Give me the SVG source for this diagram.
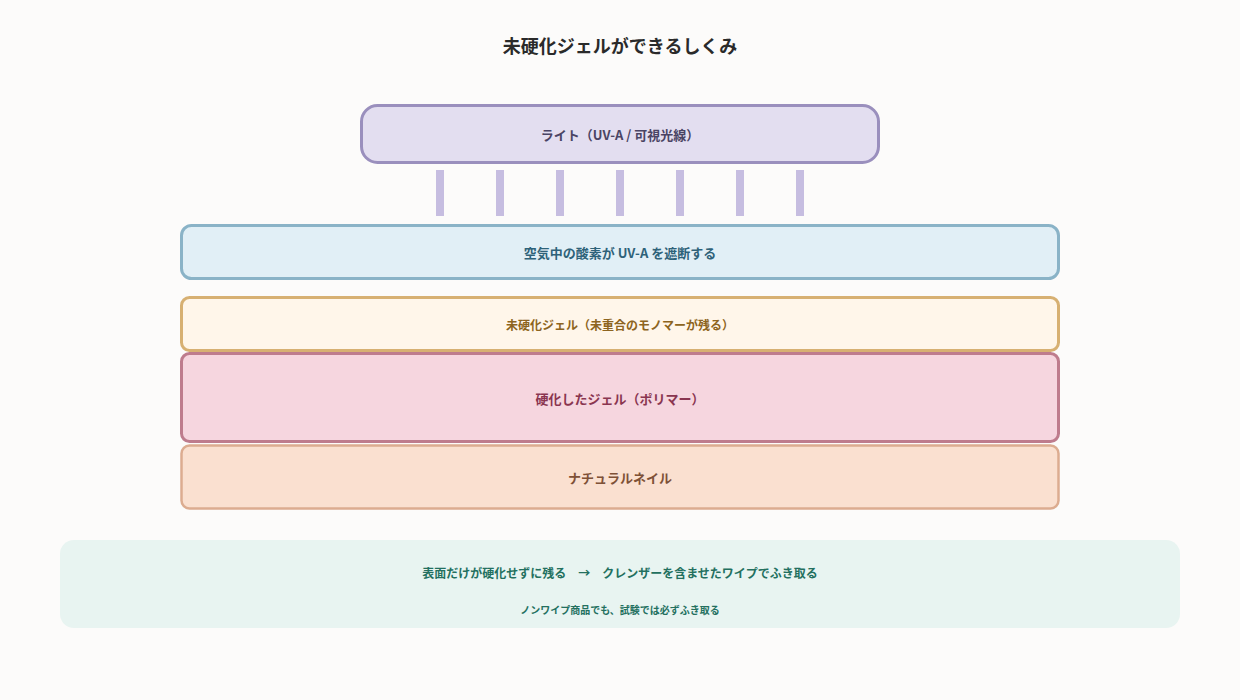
<svg xmlns="http://www.w3.org/2000/svg" width="1240" height="700" viewBox="0 0 1240 700">
<style>
text{font-family:"Noto Sans CJK JP","Noto Sans",sans-serif;text-anchor:middle;dominant-baseline:central;font-weight:bold}
.ray{fill:#c6bde0}
</style>
<rect width="1240" height="700" fill="#fcfbfa"/>
<text x="620" y="45" font-size="18" fill="#2a2a2a">未硬化ジェルができるしくみ</text>
<g id="light"><rect x="361.5" y="105.5" width="517" height="57" rx="16" fill="#e3def0" stroke="#9a8fbd" stroke-width="3"/><text x="620" y="134" font-size="13" fill="#4a4464">ライト（UV-A / 可視光線）</text></g>
<g id="rays"><rect class="ray" x="436" y="170" width="8" height="46"/><rect class="ray" x="496" y="170" width="8" height="46"/><rect class="ray" x="556" y="170" width="8" height="46"/><rect class="ray" x="616" y="170" width="8" height="46"/><rect class="ray" x="676" y="170" width="8" height="46"/><rect class="ray" x="736" y="170" width="8" height="46"/><rect class="ray" x="796" y="170" width="8" height="46"/></g>
<g id="oxygen"><rect x="181.5" y="225.5" width="877" height="53" rx="10" fill="#e1eff6" stroke="#8ab3c7" stroke-width="3"/><text x="620" y="252" font-size="13" fill="#2e6279">空気中の酸素が UV-A を遮断する</text></g>
<g id="uncured"><rect x="181.5" y="297.5" width="877" height="53" rx="8" fill="#fff6ea" stroke="#d7b072" stroke-width="3"/><text x="620" y="324" font-size="12" fill="#8d6420">未硬化ジェル（未重合のモノマーが残る）</text></g>
<g id="cured"><rect x="181.5" y="353.5" width="877" height="88" rx="8" fill="#f6d6df" stroke="#be7c8d" stroke-width="3"/><text x="620" y="398" font-size="13" fill="#8a3550">硬化したジェル（ポリマー）</text></g>
<g id="nail"><rect x="181.5" y="445.5" width="877" height="63" rx="8" fill="#fae0d0" stroke="#dcac90" stroke-width="2.5"/><text x="620" y="477" font-size="13" fill="#7e5137">ナチュラルネイル</text></g>
<g id="note"><rect x="60" y="540" width="1120" height="88" rx="14" fill="#e8f4f1"/><text x="620" y="572" font-size="12" fill="#23705f">表面だけが硬化せずに残る　→　クレンザーを含ませたワイプでふき取る</text><text x="620" y="609" font-size="10" fill="#23705f">ノンワイプ商品でも、試験では必ずふき取る</text></g>
<g id="connectors"/>
</svg>
